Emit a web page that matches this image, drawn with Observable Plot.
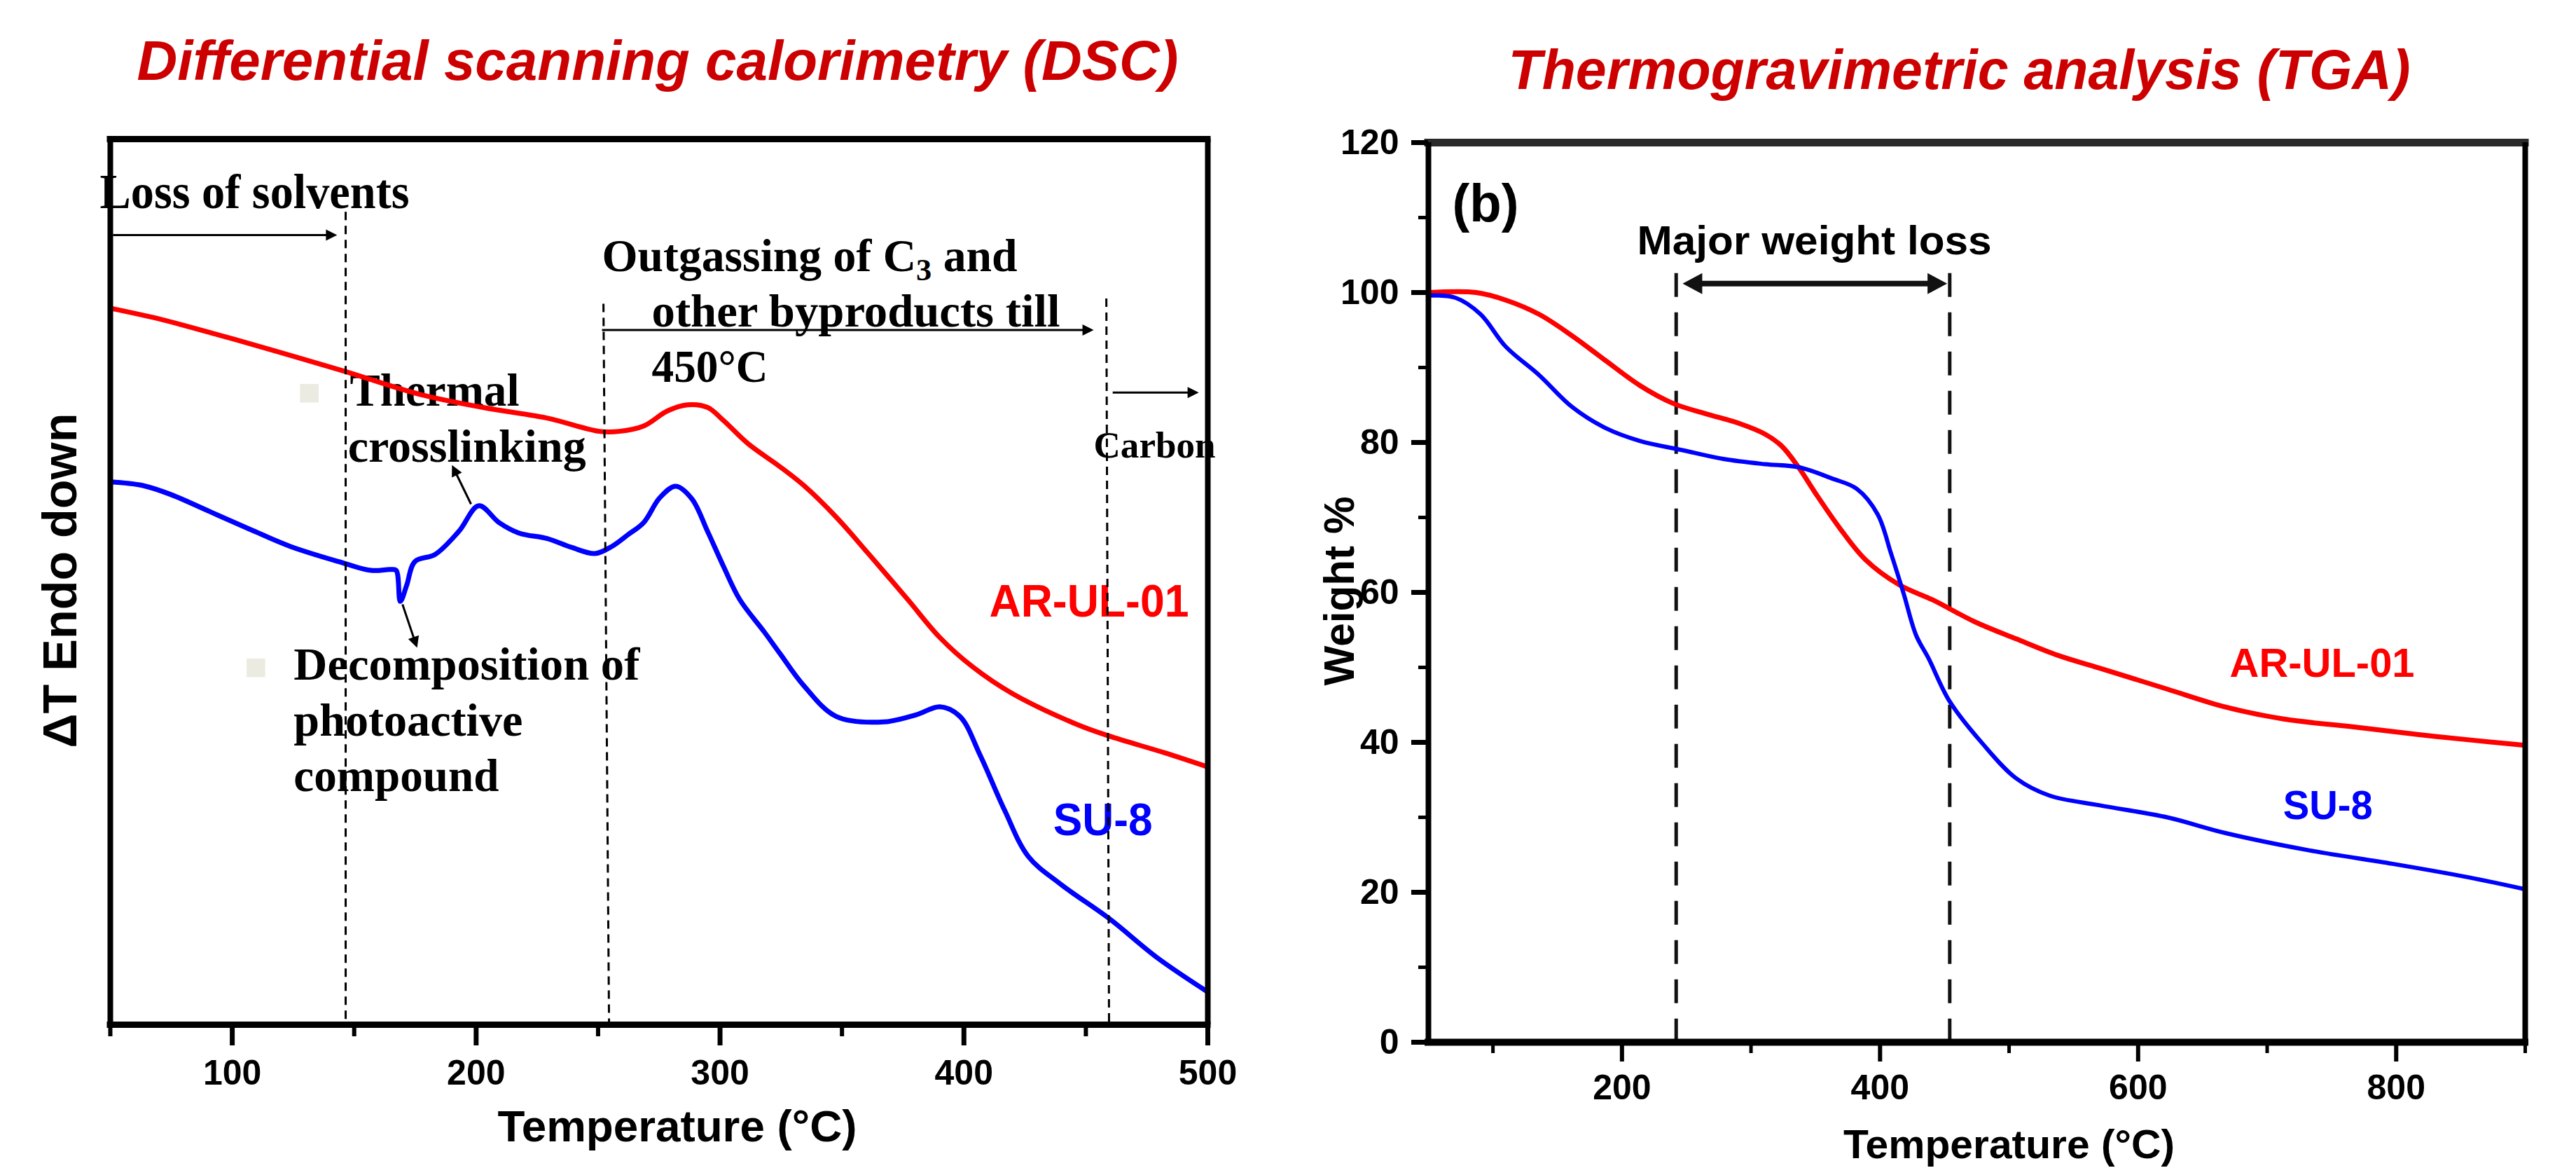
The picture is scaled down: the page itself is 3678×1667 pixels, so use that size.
<!DOCTYPE html>
<html><head><meta charset="utf-8">
<script src="https://cdn.jsdelivr.net/npm/d3@7"></script>
<script src="https://cdn.jsdelivr.net/npm/@observablehq/plot@0.6"></script>
<style>
html,body{margin:0;padding:0;background:#fff;}
#wrap{display:flex;width:3678px;height:1667px;overflow:hidden;background:#fff;}
#wrap > div{flex:none;}
#wrap svg{display:block;max-width:none;}
</style></head><body><div id="wrap"><div id="dsc"></div><div id="tga"></div></div>
<script>
// ---------------- DATA ----------------
// DSC (arbitrary ΔT units, 0 = bottom of frame, 100 = top)
const dscArTemp   = [50,71.4,94.2,117.3,147,176.6,202.8,229,250.5,258.7,268.7,278.4,286.7,294.9,301.5,311.5,324.6,334.3,347.7,360.8,377,390.2,403.6,419.8,446.4,459.5,482.3,500];
const dscArSignal = [80.9,79.6,77.9,76.1,73.7,71.2,69.7,68.5,67.0,67.0,67.6,69.3,70.0,69.7,68.2,65.6,63.0,60.9,57.3,53.2,48.0,43.7,40.4,37.4,33.9,32.6,30.7,29.1];
const dscSuTemp   = [50,63.1,74.5,91.1,107.6,123.9,143.5,156.9,164.9,167.2,168.9,171.5,174.9,183.2,192.9,201.1,209.4,217.7,229.1,239.1,248.7,255.6,262.1,268.7,275.3,281.8,288.4,294.9,301.5,308.1,318,324.6,334.3,347.7,367.4,380.5,390.2,398.4,406.7,416.7,426.4,439.5,459.5,479.1,500];
const dscSuSignal = [61.3,60.9,59.9,57.9,55.9,54.0,52.3,51.3,51.4,51.3,47.8,49.6,52.3,53.1,55.7,58.6,56.7,55.5,54.9,53.9,53.2,54.0,55.3,56.7,59.5,60.8,59.4,55.7,51.7,48.0,44.4,41.9,38.3,34.8,34.2,35.0,35.9,34.8,30.4,24.2,19.0,15.9,12.0,7.6,3.7];
const dscMajorTicks = [100,200,300,400,500];
const dscMinorTicks = [50,150,250,350,450];

// TGA (weight %)
const tgaArTemp   = [50,87,109.8,135.7,161.6,187.5,213.9,239.8,265.6,291.5,311,323.9,336.8,349.7,369.1,388.5,415,440.8,473.2,505.5,537.9,570.2,622.5,667.8,713.1,764.9,830,900];
const tgaArWeight = [100,100,99,97.1,94.2,90.9,87.6,85.2,83.8,82.5,81.1,79.5,76.7,73.3,68.5,64.4,61.0,59.0,56.1,53.8,51.6,49.9,47.1,44.7,43.1,42.1,40.8,39.6];
const tgaSuTemp   = [50,71,90.4,109.8,135.7,161.6,187.5,213.9,246.2,278.6,311,336.8,362.7,382.1,398.2,408.5,418.2,427.9,437.6,453.8,479.6,505.5,531.4,570.2,622.5,667.8,732.5,797.2,856,900];
const tgaSuWeight = [99.6,99.3,97.1,92.8,89.0,84.7,81.9,80.2,79.0,77.8,77.1,76.7,75.2,73.8,70.4,65.2,59.9,54.3,51.2,45.5,39.8,35.2,32.9,31.6,30.0,27.9,25.6,23.8,22.0,20.4];
const tgaXMajor = [200,400,600,800];
const tgaXMinor = [100,300,500,700,900];
const tgaYMajor = [0,20,40,60,80,100,120];
const tgaYMinor = [10,30,50,70,90,110];

// ---------------- LAYOUT ----------------
const SANS = "'Liberation Sans', Arial, sans-serif";
const SERIF = "'Liberation Serif', 'Times New Roman', serif";
const H = 1667;

const dscAr = dscArTemp.map((t, i) => ({t, v: dscArSignal[i]}));
const dscSu = dscSuTemp.map((t, i) => ({t, v: dscSuSignal[i]}));
const tgaAr = tgaArTemp.map((t, i) => ({t, v: tgaArWeight[i]}));
const tgaSu = tgaSuTemp.map((t, i) => ({t, v: tgaSuWeight[i]}));

// annotation anchors (data coordinates)
const dscNotes = [
  {text: "Loss of solvents", t: 45.7, v: 92.17, size: 70},
  {text: "Outgassing of C3 and", t: 251.6, v: 85.05, size: 65},
  {text: "other byproducts till", t: 272.0, v: 78.8, size: 65},
  {text: "450°C", t: 272.0, v: 72.55, size: 65},
  {text: "Thermal", t: 148.2, v: 69.86, size: 65},
  {text: "crosslinking", t: 147.4, v: 63.6, size: 65},
  {text: "Decomposition of", t: 125.2, v: 39.0, size: 65},
  {text: "photoactive", t: 125.2, v: 32.67, size: 65},
  {text: "compound", t: 125.2, v: 26.35, size: 65},
  {text: "Carbon", t: 453.2, v: 64.08, size: 52}
];
const dscBullets = [{t: 131.6, v: 71.3}, {t: 109.7, v: 40.3}];
const dscDashes = [
  {x1: 146.5, y1: 91.8, x2: 146.5, y2: 0},
  {x1: 252.2, y1: 81.4, x2: 254.5, y2: 0},
  {x1: 458.4, y1: 82.0, x2: 459.5, y2: 0}
];
const dscArrows = [
  {x1: 51.1, y1: 89.16, x2: 143.0, y2: 89.16},
  {x1: 251.6, y1: 78.45, x2: 453.2, y2: 78.45},
  {x1: 461.0, y1: 71.38, x2: 496.3, y2: 71.38},
  {x1: 197.9, y1: 58.78, x2: 190.1, y2: 63.2},
  {x1: 169.8, y1: 47.47, x2: 175.8, y2: 42.56}
];
const dscSeriesLabels = [
  {text: "AR-UL-01", t: 410.4, v: 46.1, color: "#ff0000"},
  {text: "SU-8", t: 436.6, v: 21.4, color: "#0000ff"}
];

const tgaDashes = [{x1: 242, y1: 102.6, x2: 242, y2: 0}, {x1: 454, y1: 102.6, x2: 454, y2: 0}];
const tgaArrows = [{x1: 247, y1: 101.2, x2: 452, y2: 101.2, both: true}];
const tgaSeriesLabels = [
  {text: "AR-UL-01", t: 671, v: 48.7, color: "#ff0000"},
  {text: "SU-8", t: 712.3, v: 29.8, color: "#0000ff"}
];

// build filled arrowheads + shafts in pixel space, back to data space
function buildArrows(arrows, xs, ys, len, half) {
  const polys = [], shafts = [];
  arrows.forEach((a, k) => {
    const sx1 = xs(a.x1), sy1 = ys(a.y1), sx2 = xs(a.x2), sy2 = ys(a.y2);
    const L = Math.hypot(sx2 - sx1, sy2 - sy1), ux = (sx2 - sx1) / L, uy = (sy2 - sy1) / L;
    const head = (tx, ty, ux, uy, id) => {
      const bx = tx - ux * len, by = ty - uy * len, nx = -uy, ny = ux;
      [[tx, ty], [bx + nx * half, by + ny * half], [bx - nx * half, by - ny * half], [tx, ty]]
        .forEach(([px, py]) => polys.push({id, x: xs.invert(px), y: ys.invert(py)}));
      return [tx - ux * len * 0.7, ty - uy * len * 0.7];
    };
    const [e2x, e2y] = head(sx2, sy2, ux, uy, k + "b");
    let e1x = sx1, e1y = sy1;
    if (a.both) [e1x, e1y] = head(sx1, sy1, -ux, -uy, k + "a");
    shafts.push({x1: xs.invert(e1x), y1: ys.invert(e1y), x2: xs.invert(e2x), y2: ys.invert(e2y)});
  });
  return {polys, shafts};
}

function fitText(svg, lengths) {
  svg.querySelectorAll("text").forEach(el => {
    const s = el.textContent;
    if (Object.prototype.hasOwnProperty.call(lengths, s)) {
      el.setAttribute("textLength", lengths[s]);
      el.setAttribute("lengthAdjust", "spacingAndGlyphs");
    }
  });
}
function subscriptC3(svg) {
  const ns = "http://www.w3.org/2000/svg";
  svg.querySelectorAll("text").forEach(el => {
    if (el.textContent === "Outgassing of C3 and") {
      while (el.firstChild) el.removeChild(el.firstChild);
      el.appendChild(document.createTextNode("Outgassing of C"));
      const a = document.createElementNS(ns, "tspan");
      a.setAttribute("dy", "13"); a.setAttribute("font-size", "44"); a.textContent = "3";
      const b = document.createElementNS(ns, "tspan");
      b.setAttribute("dy", "-13"); b.textContent = " and";
      el.appendChild(a); el.appendChild(b);
    }
  });
}

// ---------------- DSC ----------------
const dscW = 1800;
const dscM = {left: 157, right: 76, top: 198, bottom: 205};
const dscXs = d3.scaleLinear([50, 500], [dscM.left, dscW - dscM.right]);
const dscYs = d3.scaleLinear([0, 100], [H - dscM.bottom, dscM.top]);
const dscA = buildArrows(dscArrows, dscXs, dscYs, 16, 8);

const dsc = Plot.plot({
  width: dscW, height: H,
  marginLeft: dscM.left, marginRight: dscM.right, marginTop: dscM.top, marginBottom: dscM.bottom,
  x: {domain: [50, 500], label: null},
  y: {domain: [0, 100], label: null, axis: null},
  style: {background: "white", color: "black", fontFamily: SANS, overflow: "visible"},
  marks: [
    Plot.dot(dscBullets, {x: "t", y: "v", symbol: "square", r: 15, fill: "#ecebe1", stroke: "none"}),
    Plot.text(dscNotes, {x: "t", y: "v", text: "text", fontSize: d => d.size, textAnchor: "start", lineAnchor: "bottom", fontFamily: SERIF, fontWeight: "bold", fill: "black"}),
    Plot.text(dscSeriesLabels, {x: "t", y: "v", text: "text", fill: d => d.color, fontSize: 64, fontWeight: "bold", textAnchor: "start", lineAnchor: "bottom", fontFamily: SANS}),
    Plot.line(dscAr, {x: "t", y: "v", stroke: "#ff0000", strokeWidth: 7, curve: "catmull-rom"}),
    Plot.line(dscSu, {x: "t", y: "v", stroke: "#0000ff", strokeWidth: 7, curve: "catmull-rom"}),
    Plot.link(dscDashes, {x1: "x1", y1: "y1", x2: "x2", y2: "y2", stroke: "black", strokeWidth: 3, strokeDasharray: "12,8"}),
    Plot.link(dscA.shafts, {x1: "x1", y1: "y1", x2: "x2", y2: "y2", stroke: "black", strokeWidth: 3}),
    Plot.line(dscA.polys, {x: "x", y: "y", z: "id", fill: "black", stroke: "none"}),
    Plot.ruleY([0, 100], {stroke: "black", strokeWidth: 9, strokeLinecap: "square"}),
    Plot.ruleX([50, 500], {stroke: "black", strokeWidth: 8}),
    Plot.axisX({ticks: dscMajorTicks, tickSize: 30, tickPadding: 20, strokeWidth: 7, fontSize: 50, fontWeight: "bold", fontFamily: SANS, label: null}),
    Plot.axisX({ticks: dscMinorTicks, tickSize: 17, strokeWidth: 6, tickFormat: () => "", label: null}),
    Plot.text(["Differential scanning calorimetry (DSC)"], {frameAnchor: "top", text: d => d, dx: -2, dy: -85, lineAnchor: "bottom", fontSize: 80, fontWeight: "bold", fontStyle: "italic", fill: "#cc0000", fontFamily: SANS}),
    Plot.text(["Temperature (°C)"], {frameAnchor: "bottom", text: d => d, dx: 26, dy: 166, lineAnchor: "bottom", fontSize: 63, fontWeight: "bold", fill: "black", fontFamily: SANS}),
    Plot.text(["ΔT Endo down"], {frameAnchor: "left", text: d => d, dx: -49, dy: -2, rotate: -90, textAnchor: "middle", lineAnchor: "bottom", fontSize: 68, fontWeight: "bold", fill: "black", fontFamily: SANS})
  ]
});
subscriptC3(dsc);
fitText(dsc, {
  "Differential scanning calorimetry (DSC)": 1487,
  "Temperature (°C)": 513,
  "ΔT Endo down": 478,
  "Loss of solvents": 442,
  "Outgassing of C3 and": 593,
  "other byproducts till": 583,
  "450°C": 166,
  "Thermal": 242,
  "crosslinking": 340,
  "Decomposition of": 494,
  "photoactive": 327,
  "compound": 293,
  "Carbon": 174,
  "AR-UL-01": 285,
  "SU-8": 142
});
document.getElementById("dsc").appendChild(dsc);

// ---------------- TGA ----------------
const tgaW = 1878;
const tgaM = {left: 239, right: 73, top: 203, bottom: 180};
const tgaXs = d3.scaleLinear([50, 900], [tgaM.left, tgaW - tgaM.right]);
const tgaYs = d3.scaleLinear([0, 120], [H - tgaM.bottom, tgaM.top]);
const tgaA = buildArrows(tgaArrows, tgaXs, tgaYs, 28, 15);

const tga = Plot.plot({
  width: tgaW, height: H,
  marginLeft: tgaM.left, marginRight: tgaM.right, marginTop: tgaM.top, marginBottom: tgaM.bottom,
  x: {domain: [50, 900], label: null},
  y: {domain: [0, 120], label: null},
  style: {background: "white", color: "black", fontFamily: SANS, overflow: "visible"},
  marks: [
    Plot.link(tgaDashes, {x1: "x1", y1: "y1", x2: "x2", y2: "y2", stroke: "#111", strokeWidth: 5, strokeDasharray: "34,22"}),
    Plot.line(tgaAr, {x: "t", y: "v", stroke: "#ff0000", strokeWidth: 7, curve: "catmull-rom"}),
    Plot.line(tgaSu, {x: "t", y: "v", stroke: "#0000ff", strokeWidth: 6, curve: "catmull-rom"}),
    Plot.link(tgaA.shafts, {x1: "x1", y1: "y1", x2: "x2", y2: "y2", stroke: "#111", strokeWidth: 8}),
    Plot.line(tgaA.polys, {x: "x", y: "y", z: "id", fill: "#111", stroke: "none"}),
    Plot.text(["(b)"], {x: 68.5, y: 109.5, text: d => d, textAnchor: "start", lineAnchor: "bottom", fontSize: 76, fontWeight: "bold", fill: "black", fontFamily: SANS}),
    Plot.text(["Major weight loss"], {x: 211.8, y: 105.1, text: d => d, textAnchor: "start", lineAnchor: "bottom", fontSize: 58, fontWeight: "bold", fill: "black", fontFamily: SANS}),
    Plot.text(tgaSeriesLabels, {x: "t", y: "v", text: "text", fill: d => d.color, fontSize: 58, fontWeight: "bold", textAnchor: "start", lineAnchor: "bottom", fontFamily: SANS}),
    Plot.ruleY([0], {stroke: "black", strokeWidth: 10, strokeLinecap: "square"}),
    Plot.ruleY([120], {stroke: "#2a2a2a", strokeWidth: 11, strokeLinecap: "square"}),
    Plot.ruleX([50, 900], {stroke: "black", strokeWidth: 8}),
    Plot.axisY({ticks: tgaYMajor, tickSize: 24, tickPadding: 18, strokeWidth: 7, fontSize: 50, fontWeight: "bold", fontFamily: SANS, label: null}),
    Plot.axisY({ticks: tgaYMinor, tickSize: 14, strokeWidth: 5, tickFormat: () => "", label: null}),
    Plot.axisX({ticks: tgaXMajor, tickSize: 28, tickPadding: 18, strokeWidth: 6, fontSize: 50, fontWeight: "bold", fontFamily: SANS, label: null}),
    Plot.axisX({ticks: tgaXMinor, tickSize: 16, strokeWidth: 5, tickFormat: () => "", label: null}),
    Plot.text(["Thermogravimetric analysis (TGA)"], {frameAnchor: "top", text: d => d, dx: -25, dy: -77, lineAnchor: "bottom", fontSize: 80, fontWeight: "bold", fontStyle: "italic", fill: "#cc0000", fontFamily: SANS}),
    Plot.text(["Temperature (°C)"], {frameAnchor: "bottom", text: d => d, dx: 46, dy: 165, lineAnchor: "bottom", fontSize: 58, fontWeight: "bold", fill: "black", fontFamily: SANS}),
    Plot.text(["Weight %"], {frameAnchor: "left", text: d => d, dx: -107, dy: -2, rotate: -90, textAnchor: "middle", lineAnchor: "bottom", fontSize: 62, fontWeight: "bold", fill: "black", fontFamily: SANS})
  ]
});
fitText(tga, {
  "Thermogravimetric analysis (TGA)": 1288,
  "Temperature (°C)": 473,
  "Weight %": 270,
  "Major weight loss": 506,
  "(b)": 95,
  "AR-UL-01": 264,
  "SU-8": 128
});
document.getElementById("tga").appendChild(tga);
</script>
</body></html>
